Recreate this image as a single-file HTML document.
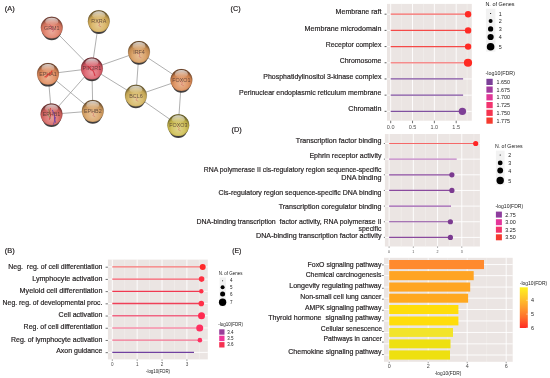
<!DOCTYPE html>
<html><head><meta charset="utf-8"><style>
html,body{margin:0;padding:0;background:#fff;}
body{width:550px;height:378px;overflow:hidden;}
svg{display:block;font-family:"Liberation Sans", sans-serif;will-change:transform;}
</style></head><body>
<svg width="550" height="378" viewBox="0 0 550 378">
<text x="4.80" y="10.70" font-size="7.6" text-anchor="start" fill="#231F20" textLength="9.90" lengthAdjust="spacingAndGlyphs" stroke="#231F20" stroke-width="0.2" xml:space="preserve">(A)</text>
<text x="230.60" y="10.80" font-size="7.6" text-anchor="start" fill="#231F20" textLength="10.00" lengthAdjust="spacingAndGlyphs" stroke="#231F20" stroke-width="0.2" xml:space="preserve">(C)</text>
<text x="231.60" y="131.80" font-size="7.6" text-anchor="start" fill="#231F20" textLength="10.20" lengthAdjust="spacingAndGlyphs" stroke="#231F20" stroke-width="0.2" xml:space="preserve">(D)</text>
<text x="4.80" y="252.80" font-size="7.6" text-anchor="start" fill="#231F20" textLength="9.90" lengthAdjust="spacingAndGlyphs" stroke="#231F20" stroke-width="0.2" xml:space="preserve">(B)</text>
<text x="232.30" y="252.90" font-size="7.6" text-anchor="start" fill="#231F20" textLength="9.10" lengthAdjust="spacingAndGlyphs" stroke="#231F20" stroke-width="0.2" xml:space="preserve">(E)</text>
<line x1="51.75" y1="27.60" x2="91.90" y2="68.50" stroke="#9C9C9C" stroke-width="0.8"/>
<line x1="98.80" y1="21.20" x2="91.90" y2="68.50" stroke="#9C9C9C" stroke-width="0.8"/>
<line x1="91.90" y1="68.50" x2="139.00" y2="52.00" stroke="#9C9C9C" stroke-width="0.8"/>
<line x1="91.90" y1="68.50" x2="48.00" y2="73.90" stroke="#9C9C9C" stroke-width="0.8"/>
<line x1="91.90" y1="68.50" x2="51.50" y2="114.30" stroke="#9C9C9C" stroke-width="0.8"/>
<line x1="91.90" y1="68.50" x2="92.80" y2="111.00" stroke="#9C9C9C" stroke-width="0.8"/>
<line x1="91.90" y1="68.50" x2="135.90" y2="95.60" stroke="#9C9C9C" stroke-width="0.8"/>
<line x1="48.00" y1="73.90" x2="51.50" y2="114.30" stroke="#9C9C9C" stroke-width="0.8"/>
<line x1="48.00" y1="73.90" x2="92.80" y2="111.00" stroke="#9C9C9C" stroke-width="0.8"/>
<line x1="51.50" y1="114.30" x2="92.80" y2="111.00" stroke="#9C9C9C" stroke-width="0.8"/>
<line x1="139.00" y1="52.00" x2="135.90" y2="95.60" stroke="#9C9C9C" stroke-width="0.8"/>
<line x1="139.00" y1="52.00" x2="181.40" y2="80.00" stroke="#9C9C9C" stroke-width="0.8"/>
<line x1="135.90" y1="95.60" x2="181.40" y2="80.00" stroke="#9C9C9C" stroke-width="0.8"/>
<line x1="135.90" y1="95.60" x2="178.30" y2="125.20" stroke="#9C9C9C" stroke-width="0.8"/>
<line x1="181.40" y1="80.00" x2="178.30" y2="125.20" stroke="#9C9C9C" stroke-width="0.8"/>
<defs><radialGradient id="shade" cx="0.5" cy="0.68" r="0.62"><stop offset="0" stop-color="#fff" stop-opacity="0.38"/><stop offset="0.5" stop-color="#fff" stop-opacity="0.12"/><stop offset="0.78" stop-color="#000" stop-opacity="0.08"/><stop offset="1" stop-color="#000" stop-opacity="0.5"/></radialGradient><linearGradient id="hl" x1="0" y1="0" x2="0" y2="1"><stop offset="0" stop-color="#fff" stop-opacity="0.75"/><stop offset="1" stop-color="#fff" stop-opacity="0.0"/></linearGradient></defs>
<ellipse cx="51.75" cy="29.40" rx="10.00" ry="10.90" fill="#2E2A2A" opacity="0.9"/>
<circle cx="51.75" cy="27.60" r="10.90" fill="#E07A62"/>
<circle cx="51.75" cy="27.60" r="10.90" fill="url(#shade)" stroke="#000" stroke-opacity="0.18" stroke-width="0.6"/>
<ellipse cx="51.75" cy="21.60" rx="6.54" ry="3.92" fill="url(#hl)"/>
<text x="51.75" y="29.50" font-size="5.4" text-anchor="middle" fill="#3A2626" opacity="0.72" xml:space="preserve">GRM1</text>
<path d="M51.75,27.60 m-2,-3 l2,2 l-1,2 l3,1 l-1,2" stroke="#C02050" stroke-width="0.8" fill="none" opacity="0.55" stroke-linecap="round"/>
<ellipse cx="98.80" cy="23.00" rx="10.00" ry="10.90" fill="#2E2A2A" opacity="0.9"/>
<circle cx="98.80" cy="21.20" r="10.90" fill="#D6AE58"/>
<circle cx="98.80" cy="21.20" r="10.90" fill="url(#shade)" stroke="#000" stroke-opacity="0.18" stroke-width="0.6"/>
<ellipse cx="98.80" cy="15.20" rx="6.54" ry="3.92" fill="url(#hl)"/>
<text x="98.80" y="23.10" font-size="5.4" text-anchor="middle" fill="#3A2626" opacity="0.72" xml:space="preserve">RXRA</text>
<path d="M98.80,21.20 m-1,1 l2,2 l-1,1.5 l2,1" stroke="#C83040" stroke-width="0.6" fill="none" opacity="0.55" stroke-linecap="round"/>
<ellipse cx="91.90" cy="70.30" rx="10.00" ry="10.90" fill="#2E2A2A" opacity="0.9"/>
<circle cx="91.90" cy="68.50" r="10.90" fill="#DC5A66"/>
<circle cx="91.90" cy="68.50" r="10.90" fill="url(#shade)" stroke="#000" stroke-opacity="0.18" stroke-width="0.6"/>
<ellipse cx="91.90" cy="62.50" rx="6.54" ry="3.92" fill="url(#hl)"/>
<text x="91.90" y="70.40" font-size="5.4" text-anchor="middle" fill="#3A2626" opacity="0.72" xml:space="preserve">PIK3R1</text>
<path d="M91.90,68.50 m-4,-2 l2,1 l1,2 l2,1 l1,2 l1,3" stroke="#D02030" stroke-width="1.1" fill="none" opacity="0.75" stroke-linecap="round"/>
<path d="M91.90,68.50 m-1,-3 l3,2 l1,3" stroke="#E04050" stroke-width="0.6" fill="none" opacity="0.6" stroke-linecap="round"/>
<ellipse cx="139.00" cy="53.80" rx="10.00" ry="10.90" fill="#2E2A2A" opacity="0.9"/>
<circle cx="139.00" cy="52.00" r="10.90" fill="#D69858"/>
<circle cx="139.00" cy="52.00" r="10.90" fill="url(#shade)" stroke="#000" stroke-opacity="0.18" stroke-width="0.6"/>
<ellipse cx="139.00" cy="46.00" rx="6.54" ry="3.92" fill="url(#hl)"/>
<text x="139.00" y="53.90" font-size="5.4" text-anchor="middle" fill="#3A2626" opacity="0.72" xml:space="preserve">IRF4</text>
<path d="M139.00,52.00 m-1,1 l2,2 l-1,1.5 l2,1" stroke="#C83040" stroke-width="0.6" fill="none" opacity="0.55" stroke-linecap="round"/>
<ellipse cx="48.00" cy="75.70" rx="10.00" ry="10.90" fill="#2E2A2A" opacity="0.9"/>
<circle cx="48.00" cy="73.90" r="10.90" fill="#DF8858"/>
<circle cx="48.00" cy="73.90" r="10.90" fill="url(#shade)" stroke="#000" stroke-opacity="0.18" stroke-width="0.6"/>
<ellipse cx="48.00" cy="67.90" rx="6.54" ry="3.92" fill="url(#hl)"/>
<text x="48.00" y="75.80" font-size="5.4" text-anchor="middle" fill="#3A2626" opacity="0.72" xml:space="preserve">EPHA1</text>
<path d="M48.00,73.90 m-3,3 l2,-1 l1,-2 l2,0 l2,-3" stroke="#D82020" stroke-width="1.2" fill="none" opacity="0.7" stroke-linecap="round"/>
<path d="M48.00,73.90 m-2,4 l3,-3 l3,-1" stroke="#E03020" stroke-width="0.7" fill="none" opacity="0.6" stroke-linecap="round"/>
<ellipse cx="51.50" cy="116.10" rx="10.00" ry="10.90" fill="#2E2A2A" opacity="0.9"/>
<circle cx="51.50" cy="114.30" r="10.90" fill="#D6625E"/>
<circle cx="51.50" cy="114.30" r="10.90" fill="url(#shade)" stroke="#000" stroke-opacity="0.18" stroke-width="0.6"/>
<ellipse cx="51.50" cy="108.30" rx="6.54" ry="3.92" fill="url(#hl)"/>
<text x="51.50" y="116.20" font-size="5.4" text-anchor="middle" fill="#3A2626" opacity="0.72" xml:space="preserve">EPHB1</text>
<path d="M51.50,114.30 m-1,-6 l-1,4 l1,3 l-1,4" stroke="#D02828" stroke-width="0.9" fill="none" opacity="0.8" stroke-linecap="round"/>
<path d="M51.50,114.30 m-3,-5 l1,3 l-1,3 l2,3" stroke="#40A040" stroke-width="0.7" fill="none" opacity="0.7" stroke-linecap="round"/>
<path d="M51.50,114.30 m1,-4 l2,5 l0,4 l1,3" stroke="#6030A0" stroke-width="0.9" fill="none" opacity="0.85" stroke-linecap="round"/>
<path d="M51.50,114.30 m4,3 l-1,4 l-1,3" stroke="#5030B0" stroke-width="0.8" fill="none" opacity="0.8" stroke-linecap="round"/>
<ellipse cx="92.80" cy="112.80" rx="10.00" ry="10.90" fill="#2E2A2A" opacity="0.9"/>
<circle cx="92.80" cy="111.00" r="10.90" fill="#D8A060"/>
<circle cx="92.80" cy="111.00" r="10.90" fill="url(#shade)" stroke="#000" stroke-opacity="0.18" stroke-width="0.6"/>
<ellipse cx="92.80" cy="105.00" rx="6.54" ry="3.92" fill="url(#hl)"/>
<text x="92.80" y="112.90" font-size="5.4" text-anchor="middle" fill="#3A2626" opacity="0.72" xml:space="preserve">EPHB2</text>
<path d="M92.80,111.00 m-1,1 l2,2 l-1,1.5 l2,1" stroke="#C83040" stroke-width="0.6" fill="none" opacity="0.55" stroke-linecap="round"/>
<ellipse cx="135.90" cy="97.40" rx="10.00" ry="10.90" fill="#2E2A2A" opacity="0.9"/>
<circle cx="135.90" cy="95.60" r="10.90" fill="#D4B45C"/>
<circle cx="135.90" cy="95.60" r="10.90" fill="url(#shade)" stroke="#000" stroke-opacity="0.18" stroke-width="0.6"/>
<ellipse cx="135.90" cy="89.60" rx="6.54" ry="3.92" fill="url(#hl)"/>
<text x="135.90" y="97.50" font-size="5.4" text-anchor="middle" fill="#3A2626" opacity="0.72" xml:space="preserve">BCL6</text>
<path d="M135.90,95.60 m-1,1 l2,2 l-1,1.5 l2,1" stroke="#C83040" stroke-width="0.6" fill="none" opacity="0.55" stroke-linecap="round"/>
<ellipse cx="181.40" cy="81.80" rx="10.00" ry="10.90" fill="#2E2A2A" opacity="0.9"/>
<circle cx="181.40" cy="80.00" r="10.90" fill="#DC8A54"/>
<circle cx="181.40" cy="80.00" r="10.90" fill="url(#shade)" stroke="#000" stroke-opacity="0.18" stroke-width="0.6"/>
<ellipse cx="181.40" cy="74.00" rx="6.54" ry="3.92" fill="url(#hl)"/>
<text x="181.40" y="81.90" font-size="5.4" text-anchor="middle" fill="#3A2626" opacity="0.72" xml:space="preserve">FOXO1</text>
<path d="M181.40,80.00 m-1,1 l2,2 l-1,1.5 l2,1" stroke="#C83040" stroke-width="0.6" fill="none" opacity="0.55" stroke-linecap="round"/>
<ellipse cx="178.30" cy="127.00" rx="10.00" ry="10.90" fill="#2E2A2A" opacity="0.9"/>
<circle cx="178.30" cy="125.20" r="10.90" fill="#CDBC4C"/>
<circle cx="178.30" cy="125.20" r="10.90" fill="url(#shade)" stroke="#000" stroke-opacity="0.18" stroke-width="0.6"/>
<ellipse cx="178.30" cy="119.20" rx="6.54" ry="3.92" fill="url(#hl)"/>
<text x="178.30" y="127.10" font-size="5.4" text-anchor="middle" fill="#3A2626" opacity="0.72" xml:space="preserve">FOXO3</text>
<path d="M178.30,125.20 m-1,1 l2,2 l-1,1.5 l2,1" stroke="#C83040" stroke-width="0.6" fill="none" opacity="0.55" stroke-linecap="round"/>
<rect x="387.00" y="3.90" width="84.80" height="116.80" fill="#EBE5E3"/>
<line x1="401.62" y1="3.90" x2="401.62" y2="120.70" stroke="#F4F2F1" stroke-width="0.5"/>
<line x1="423.45" y1="3.90" x2="423.45" y2="120.70" stroke="#F4F2F1" stroke-width="0.5"/>
<line x1="445.29" y1="3.90" x2="445.29" y2="120.70" stroke="#F4F2F1" stroke-width="0.5"/>
<line x1="467.12" y1="3.90" x2="467.12" y2="120.70" stroke="#F4F2F1" stroke-width="0.5"/>
<line x1="390.70" y1="3.90" x2="390.70" y2="120.70" stroke="#FFFFFF" stroke-width="0.9"/>
<line x1="412.53" y1="3.90" x2="412.53" y2="120.70" stroke="#FFFFFF" stroke-width="0.9"/>
<line x1="434.37" y1="3.90" x2="434.37" y2="120.70" stroke="#FFFFFF" stroke-width="0.9"/>
<line x1="456.20" y1="3.90" x2="456.20" y2="120.70" stroke="#FFFFFF" stroke-width="0.9"/>
<line x1="387.00" y1="14.20" x2="471.80" y2="14.20" stroke="#FFFFFF" stroke-width="0.9"/>
<line x1="387.00" y1="30.39" x2="471.80" y2="30.39" stroke="#FFFFFF" stroke-width="0.9"/>
<line x1="387.00" y1="46.58" x2="471.80" y2="46.58" stroke="#FFFFFF" stroke-width="0.9"/>
<line x1="387.00" y1="62.77" x2="471.80" y2="62.77" stroke="#FFFFFF" stroke-width="0.9"/>
<line x1="387.00" y1="78.96" x2="471.80" y2="78.96" stroke="#FFFFFF" stroke-width="0.9"/>
<line x1="387.00" y1="95.15" x2="471.80" y2="95.15" stroke="#FFFFFF" stroke-width="0.9"/>
<line x1="387.00" y1="111.34" x2="471.80" y2="111.34" stroke="#FFFFFF" stroke-width="0.9"/>
<line x1="390.70" y1="14.20" x2="468.10" y2="14.20" stroke="#F56664" stroke-width="1.3"/>
<circle cx="468.10" cy="14.20" r="3.20" fill="#FF2A24"/>
<line x1="384.60" y1="14.20" x2="386.50" y2="14.20" stroke="#333" stroke-width="0.8"/>
<line x1="390.70" y1="30.39" x2="468.10" y2="30.39" stroke="#F54A48" stroke-width="1.3"/>
<circle cx="468.10" cy="30.39" r="3.20" fill="#FF2A24"/>
<line x1="384.60" y1="30.39" x2="386.50" y2="30.39" stroke="#333" stroke-width="0.8"/>
<line x1="390.70" y1="46.58" x2="468.10" y2="46.58" stroke="#F54A48" stroke-width="1.3"/>
<circle cx="468.10" cy="46.58" r="3.20" fill="#FF2A24"/>
<line x1="384.60" y1="46.58" x2="386.50" y2="46.58" stroke="#333" stroke-width="0.8"/>
<line x1="390.70" y1="62.77" x2="468.00" y2="62.77" stroke="#F58C8C" stroke-width="1.3"/>
<circle cx="468.00" cy="62.77" r="4.10" fill="#FF2A22"/>
<line x1="384.60" y1="62.77" x2="386.50" y2="62.77" stroke="#333" stroke-width="0.8"/>
<line x1="390.70" y1="78.96" x2="463.10" y2="78.96" stroke="#8050A0" stroke-width="1.3"/>
<line x1="384.60" y1="78.96" x2="386.50" y2="78.96" stroke="#333" stroke-width="0.8"/>
<line x1="390.70" y1="95.15" x2="463.10" y2="95.15" stroke="#8050A0" stroke-width="1.3"/>
<line x1="384.60" y1="95.15" x2="386.50" y2="95.15" stroke="#333" stroke-width="0.8"/>
<line x1="390.70" y1="111.34" x2="462.40" y2="111.34" stroke="#8050A0" stroke-width="1.3"/>
<circle cx="462.40" cy="111.34" r="3.70" fill="#7E3F96"/>
<line x1="384.60" y1="111.34" x2="386.50" y2="111.34" stroke="#333" stroke-width="0.8"/>
<text x="335.60" y="14.40" font-size="7.6" text-anchor="start" fill="#231F20" textLength="45.80" lengthAdjust="spacingAndGlyphs" stroke="#231F20" stroke-width="0.2" xml:space="preserve">Membrane raft</text>
<text x="304.60" y="30.50" font-size="7.6" text-anchor="start" fill="#231F20" textLength="76.80" lengthAdjust="spacingAndGlyphs" stroke="#231F20" stroke-width="0.2" xml:space="preserve">Membrane microdomain</text>
<text x="325.80" y="46.50" font-size="7.6" text-anchor="start" fill="#231F20" textLength="55.60" lengthAdjust="spacingAndGlyphs" stroke="#231F20" stroke-width="0.2" xml:space="preserve">Receptor complex</text>
<text x="339.70" y="62.50" font-size="7.6" text-anchor="start" fill="#231F20" textLength="41.70" lengthAdjust="spacingAndGlyphs" stroke="#231F20" stroke-width="0.2" xml:space="preserve">Chromosome</text>
<text x="263.30" y="78.60" font-size="7.6" text-anchor="start" fill="#231F20" textLength="118.10" lengthAdjust="spacingAndGlyphs" stroke="#231F20" stroke-width="0.2" xml:space="preserve">Phosphatidylinositol 3-kinase complex</text>
<text x="239.00" y="94.90" font-size="7.6" text-anchor="start" fill="#231F20" textLength="142.40" lengthAdjust="spacingAndGlyphs" stroke="#231F20" stroke-width="0.2" xml:space="preserve">Perinuclear endoplasmic reticulum membrane</text>
<text x="348.30" y="111.10" font-size="7.6" text-anchor="start" fill="#231F20" textLength="33.10" lengthAdjust="spacingAndGlyphs" stroke="#231F20" stroke-width="0.2" xml:space="preserve">Chromatin</text>
<line x1="390.70" y1="120.70" x2="390.70" y2="123.20" stroke="#333" stroke-width="0.7"/>
<text x="390.70" y="129.20" font-size="5.5" text-anchor="middle" fill="#4D4D4D" xml:space="preserve">0.0</text>
<line x1="412.53" y1="120.70" x2="412.53" y2="123.20" stroke="#333" stroke-width="0.7"/>
<text x="412.53" y="129.20" font-size="5.5" text-anchor="middle" fill="#4D4D4D" xml:space="preserve">0.5</text>
<line x1="434.37" y1="120.70" x2="434.37" y2="123.20" stroke="#333" stroke-width="0.7"/>
<text x="434.37" y="129.20" font-size="5.5" text-anchor="middle" fill="#4D4D4D" xml:space="preserve">1.0</text>
<line x1="456.20" y1="120.70" x2="456.20" y2="123.20" stroke="#333" stroke-width="0.7"/>
<text x="456.20" y="129.20" font-size="5.5" text-anchor="middle" fill="#4D4D4D" xml:space="preserve">1.5</text>
<text x="485.40" y="6.00" font-size="5.4" text-anchor="start" fill="#1A1A1A" textLength="29.20" lengthAdjust="spacingAndGlyphs" xml:space="preserve">N. of Genes</text>
<rect x="485.90" y="8.70" width="9.50" height="42.90" fill="#F2F2F2"/>
<circle cx="490.60" cy="13.50" r="0.60" fill="#000"/>
<text x="498.70" y="15.50" font-size="5.4" text-anchor="start" fill="#1A1A1A" xml:space="preserve">1</text>
<circle cx="490.60" cy="21.00" r="2.00" fill="#000"/>
<text x="498.70" y="23.00" font-size="5.4" text-anchor="start" fill="#1A1A1A" xml:space="preserve">2</text>
<circle cx="490.60" cy="28.90" r="2.60" fill="#000"/>
<text x="498.70" y="30.90" font-size="5.4" text-anchor="start" fill="#1A1A1A" xml:space="preserve">3</text>
<circle cx="490.60" cy="37.00" r="3.10" fill="#000"/>
<text x="498.70" y="39.00" font-size="5.4" text-anchor="start" fill="#1A1A1A" xml:space="preserve">4</text>
<circle cx="490.60" cy="46.80" r="3.80" fill="#000"/>
<text x="498.70" y="48.80" font-size="5.4" text-anchor="start" fill="#1A1A1A" xml:space="preserve">5</text>
<text x="485.60" y="74.90" font-size="5.4" text-anchor="start" fill="#1A1A1A" textLength="29.40" lengthAdjust="spacingAndGlyphs" xml:space="preserve">-log10(FDR)</text>
<rect x="486.40" y="78.80" width="6.30" height="6.20" fill="#7B3F98"/>
<text x="496.50" y="83.90" font-size="5.4" text-anchor="start" fill="#1A1A1A" xml:space="preserve">1.650</text>
<rect x="486.40" y="86.50" width="6.30" height="6.20" fill="#A23B9E"/>
<text x="496.50" y="91.60" font-size="5.4" text-anchor="start" fill="#1A1A1A" xml:space="preserve">1.675</text>
<rect x="486.40" y="94.20" width="6.30" height="6.20" fill="#DF3797"/>
<text x="496.50" y="99.30" font-size="5.4" text-anchor="start" fill="#1A1A1A" xml:space="preserve">1.700</text>
<rect x="486.40" y="102.00" width="6.30" height="6.20" fill="#F2336E"/>
<text x="496.50" y="107.10" font-size="5.4" text-anchor="start" fill="#1A1A1A" xml:space="preserve">1.725</text>
<rect x="486.40" y="109.70" width="6.30" height="6.20" fill="#F5344F"/>
<text x="496.50" y="114.80" font-size="5.4" text-anchor="start" fill="#1A1A1A" xml:space="preserve">1.750</text>
<rect x="486.40" y="117.50" width="6.30" height="6.20" fill="#F53A2E"/>
<text x="496.50" y="122.60" font-size="5.4" text-anchor="start" fill="#1A1A1A" xml:space="preserve">1.775</text>
<rect x="384.90" y="134.00" width="95.00" height="112.50" fill="#EBE5E3"/>
<line x1="401.22" y1="134.00" x2="401.22" y2="246.50" stroke="#F4F2F1" stroke-width="0.5"/>
<line x1="425.45" y1="134.00" x2="425.45" y2="246.50" stroke="#F4F2F1" stroke-width="0.5"/>
<line x1="449.68" y1="134.00" x2="449.68" y2="246.50" stroke="#F4F2F1" stroke-width="0.5"/>
<line x1="473.91" y1="134.00" x2="473.91" y2="246.50" stroke="#F4F2F1" stroke-width="0.5"/>
<line x1="389.10" y1="134.00" x2="389.10" y2="246.50" stroke="#FFFFFF" stroke-width="0.9"/>
<line x1="413.33" y1="134.00" x2="413.33" y2="246.50" stroke="#FFFFFF" stroke-width="0.9"/>
<line x1="437.56" y1="134.00" x2="437.56" y2="246.50" stroke="#FFFFFF" stroke-width="0.9"/>
<line x1="461.79" y1="134.00" x2="461.79" y2="246.50" stroke="#FFFFFF" stroke-width="0.9"/>
<line x1="384.90" y1="143.50" x2="479.90" y2="143.50" stroke="#FFFFFF" stroke-width="0.9"/>
<line x1="384.90" y1="159.15" x2="479.90" y2="159.15" stroke="#FFFFFF" stroke-width="0.9"/>
<line x1="384.90" y1="174.80" x2="479.90" y2="174.80" stroke="#FFFFFF" stroke-width="0.9"/>
<line x1="384.90" y1="190.45" x2="479.90" y2="190.45" stroke="#FFFFFF" stroke-width="0.9"/>
<line x1="384.90" y1="206.10" x2="479.90" y2="206.10" stroke="#FFFFFF" stroke-width="0.9"/>
<line x1="384.90" y1="221.75" x2="479.90" y2="221.75" stroke="#FFFFFF" stroke-width="0.9"/>
<line x1="384.90" y1="237.40" x2="479.90" y2="237.40" stroke="#FFFFFF" stroke-width="0.9"/>
<line x1="389.10" y1="143.50" x2="475.70" y2="143.50" stroke="#F56868" stroke-width="1.2"/>
<circle cx="475.70" cy="143.50" r="2.60" fill="#FF2525"/>
<line x1="383.90" y1="143.50" x2="384.90" y2="143.50" stroke="#333" stroke-width="0.7"/>
<line x1="389.10" y1="159.15" x2="456.70" y2="159.15" stroke="#C080C4" stroke-width="1.2"/>
<line x1="383.90" y1="159.15" x2="384.90" y2="159.15" stroke="#333" stroke-width="0.7"/>
<line x1="389.10" y1="174.80" x2="451.90" y2="174.80" stroke="#8A4A9E" stroke-width="1.2"/>
<circle cx="451.90" cy="174.80" r="2.60" fill="#7B3A90"/>
<line x1="383.90" y1="174.80" x2="384.90" y2="174.80" stroke="#333" stroke-width="0.7"/>
<line x1="389.10" y1="190.45" x2="451.90" y2="190.45" stroke="#8A4A9E" stroke-width="1.2"/>
<circle cx="451.90" cy="190.45" r="2.60" fill="#7B3A90"/>
<line x1="383.90" y1="190.45" x2="384.90" y2="190.45" stroke="#333" stroke-width="0.7"/>
<line x1="389.10" y1="206.10" x2="451.00" y2="206.10" stroke="#9A5AAE" stroke-width="1.2"/>
<line x1="383.90" y1="206.10" x2="384.90" y2="206.10" stroke="#333" stroke-width="0.7"/>
<line x1="389.10" y1="221.75" x2="450.40" y2="221.75" stroke="#8A4A9E" stroke-width="1.2"/>
<circle cx="450.40" cy="221.75" r="2.60" fill="#7B3A90"/>
<line x1="383.90" y1="221.75" x2="384.90" y2="221.75" stroke="#333" stroke-width="0.7"/>
<line x1="389.10" y1="237.40" x2="450.40" y2="237.40" stroke="#8A4A9E" stroke-width="1.2"/>
<circle cx="450.40" cy="237.40" r="2.60" fill="#7B3A90"/>
<line x1="383.90" y1="237.40" x2="384.90" y2="237.40" stroke="#333" stroke-width="0.7"/>
<text x="295.80" y="142.90" font-size="7.6" text-anchor="start" fill="#231F20" textLength="85.70" lengthAdjust="spacingAndGlyphs" stroke="#231F20" stroke-width="0.2" xml:space="preserve">Transcription factor binding</text>
<text x="309.40" y="157.90" font-size="7.6" text-anchor="start" fill="#231F20" textLength="72.10" lengthAdjust="spacingAndGlyphs" stroke="#231F20" stroke-width="0.2" xml:space="preserve">Ephrin receptor activity</text>
<text x="203.80" y="172.40" font-size="7.6" text-anchor="start" fill="#231F20" textLength="177.70" lengthAdjust="spacingAndGlyphs" stroke="#231F20" stroke-width="0.2" xml:space="preserve">RNA polymerase II cis-regulatory region sequence-specific</text>
<text x="341.30" y="180.00" font-size="7.6" text-anchor="start" fill="#231F20" textLength="40.20" lengthAdjust="spacingAndGlyphs" stroke="#231F20" stroke-width="0.2" xml:space="preserve">DNA binding</text>
<text x="218.50" y="194.70" font-size="7.6" text-anchor="start" fill="#231F20" textLength="163.00" lengthAdjust="spacingAndGlyphs" stroke="#231F20" stroke-width="0.2" xml:space="preserve">Cis-regulatory region sequence-specific DNA binding</text>
<text x="278.70" y="209.30" font-size="7.6" text-anchor="start" fill="#231F20" textLength="102.80" lengthAdjust="spacingAndGlyphs" stroke="#231F20" stroke-width="0.2" xml:space="preserve">Transcription coregulator binding</text>
<text x="196.50" y="224.20" font-size="7.6" text-anchor="start" fill="#231F20" textLength="185.00" lengthAdjust="spacingAndGlyphs" stroke="#231F20" stroke-width="0.2" xml:space="preserve">DNA-binding transcription  factor activity, RNA polymerase II</text>
<text x="358.60" y="231.10" font-size="7.6" text-anchor="start" fill="#231F20" textLength="22.90" lengthAdjust="spacingAndGlyphs" stroke="#231F20" stroke-width="0.2" xml:space="preserve">specific</text>
<text x="256.00" y="238.40" font-size="7.6" text-anchor="start" fill="#231F20" textLength="125.50" lengthAdjust="spacingAndGlyphs" stroke="#231F20" stroke-width="0.2" xml:space="preserve">DNA-binding transcription factor activity</text>
<line x1="389.10" y1="246.50" x2="389.10" y2="247.80" stroke="#333" stroke-width="0.5"/>
<text x="389.10" y="252.80" font-size="3.6" text-anchor="middle" fill="#4D4D4D" xml:space="preserve">0</text>
<line x1="413.33" y1="246.50" x2="413.33" y2="247.80" stroke="#333" stroke-width="0.5"/>
<text x="413.33" y="252.80" font-size="3.6" text-anchor="middle" fill="#4D4D4D" xml:space="preserve">1</text>
<line x1="437.56" y1="246.50" x2="437.56" y2="247.80" stroke="#333" stroke-width="0.5"/>
<text x="437.56" y="252.80" font-size="3.6" text-anchor="middle" fill="#4D4D4D" xml:space="preserve">2</text>
<line x1="461.79" y1="246.50" x2="461.79" y2="247.80" stroke="#333" stroke-width="0.5"/>
<text x="461.79" y="252.80" font-size="3.6" text-anchor="middle" fill="#4D4D4D" xml:space="preserve">3</text>
<text x="495.00" y="147.90" font-size="5.4" text-anchor="start" fill="#1A1A1A" textLength="27.60" lengthAdjust="spacingAndGlyphs" xml:space="preserve">N. of Genes</text>
<rect x="495.90" y="150.60" width="8.70" height="34.20" fill="#F2F2F2"/>
<circle cx="500.20" cy="155.00" r="0.60" fill="#000"/>
<text x="508.30" y="157.00" font-size="5.4" text-anchor="start" fill="#1A1A1A" xml:space="preserve">2</text>
<circle cx="500.20" cy="162.90" r="2.40" fill="#000"/>
<text x="508.30" y="164.90" font-size="5.4" text-anchor="start" fill="#1A1A1A" xml:space="preserve">3</text>
<circle cx="500.20" cy="170.50" r="2.90" fill="#000"/>
<text x="508.30" y="172.50" font-size="5.4" text-anchor="start" fill="#1A1A1A" xml:space="preserve">4</text>
<circle cx="500.20" cy="180.50" r="3.70" fill="#000"/>
<text x="508.30" y="182.50" font-size="5.4" text-anchor="start" fill="#1A1A1A" xml:space="preserve">5</text>
<text x="495.40" y="207.90" font-size="5.4" text-anchor="start" fill="#1A1A1A" textLength="27.80" lengthAdjust="spacingAndGlyphs" xml:space="preserve">-log10(FDR)</text>
<rect x="495.90" y="211.60" width="6.00" height="6.00" fill="#8E3D9E"/>
<text x="505.20" y="216.60" font-size="5.4" text-anchor="start" fill="#1A1A1A" xml:space="preserve">2.75</text>
<rect x="495.90" y="219.20" width="6.00" height="6.00" fill="#E4359A"/>
<text x="505.20" y="224.20" font-size="5.4" text-anchor="start" fill="#1A1A1A" xml:space="preserve">3.00</text>
<rect x="495.90" y="226.70" width="6.00" height="6.00" fill="#F3336A"/>
<text x="505.20" y="231.70" font-size="5.4" text-anchor="start" fill="#1A1A1A" xml:space="preserve">3.25</text>
<rect x="495.90" y="234.30" width="6.00" height="6.00" fill="#F53A30"/>
<text x="505.20" y="239.30" font-size="5.4" text-anchor="start" fill="#1A1A1A" xml:space="preserve">3.50</text>
<rect x="107.90" y="259.60" width="99.90" height="99.80" fill="#EBE5E3"/>
<line x1="124.73" y1="259.60" x2="124.73" y2="359.40" stroke="#F4F2F1" stroke-width="0.5"/>
<line x1="149.60" y1="259.60" x2="149.60" y2="359.40" stroke="#F4F2F1" stroke-width="0.5"/>
<line x1="174.47" y1="259.60" x2="174.47" y2="359.40" stroke="#F4F2F1" stroke-width="0.5"/>
<line x1="199.34" y1="259.60" x2="199.34" y2="359.40" stroke="#F4F2F1" stroke-width="0.5"/>
<line x1="112.30" y1="259.60" x2="112.30" y2="359.40" stroke="#FFFFFF" stroke-width="0.9"/>
<line x1="137.17" y1="259.60" x2="137.17" y2="359.40" stroke="#FFFFFF" stroke-width="0.9"/>
<line x1="162.04" y1="259.60" x2="162.04" y2="359.40" stroke="#FFFFFF" stroke-width="0.9"/>
<line x1="186.91" y1="259.60" x2="186.91" y2="359.40" stroke="#FFFFFF" stroke-width="0.9"/>
<line x1="107.90" y1="266.90" x2="207.80" y2="266.90" stroke="#FFFFFF" stroke-width="0.9"/>
<line x1="107.90" y1="279.11" x2="207.80" y2="279.11" stroke="#FFFFFF" stroke-width="0.9"/>
<line x1="107.90" y1="291.32" x2="207.80" y2="291.32" stroke="#FFFFFF" stroke-width="0.9"/>
<line x1="107.90" y1="303.53" x2="207.80" y2="303.53" stroke="#FFFFFF" stroke-width="0.9"/>
<line x1="107.90" y1="315.74" x2="207.80" y2="315.74" stroke="#FFFFFF" stroke-width="0.9"/>
<line x1="107.90" y1="327.95" x2="207.80" y2="327.95" stroke="#FFFFFF" stroke-width="0.9"/>
<line x1="107.90" y1="340.16" x2="207.80" y2="340.16" stroke="#FFFFFF" stroke-width="0.9"/>
<line x1="107.90" y1="352.37" x2="207.80" y2="352.37" stroke="#FFFFFF" stroke-width="0.9"/>
<line x1="112.30" y1="266.90" x2="202.70" y2="266.90" stroke="#F57272" stroke-width="1.35"/>
<circle cx="202.70" cy="266.90" r="3.00" fill="#FF2828"/>
<line x1="105.60" y1="267.20" x2="107.90" y2="267.20" stroke="#333" stroke-width="0.7"/>
<line x1="112.30" y1="279.11" x2="201.60" y2="279.11" stroke="#F55A6A" stroke-width="1.35"/>
<circle cx="201.60" cy="279.11" r="2.80" fill="#FF3040"/>
<line x1="105.60" y1="279.41" x2="107.90" y2="279.41" stroke="#333" stroke-width="0.7"/>
<line x1="112.30" y1="291.32" x2="201.30" y2="291.32" stroke="#F03850" stroke-width="1.35"/>
<circle cx="201.30" cy="291.32" r="2.20" fill="#FF3048"/>
<line x1="105.60" y1="291.62" x2="107.90" y2="291.62" stroke="#333" stroke-width="0.7"/>
<line x1="112.30" y1="303.53" x2="201.30" y2="303.53" stroke="#F04058" stroke-width="1.35"/>
<circle cx="201.30" cy="303.53" r="2.80" fill="#FF3048"/>
<line x1="105.60" y1="303.83" x2="107.90" y2="303.83" stroke="#333" stroke-width="0.7"/>
<line x1="112.30" y1="315.74" x2="201.50" y2="315.74" stroke="#F06482" stroke-width="1.35"/>
<circle cx="201.50" cy="315.74" r="3.50" fill="#FF2A50"/>
<line x1="105.60" y1="316.04" x2="107.90" y2="316.04" stroke="#333" stroke-width="0.7"/>
<line x1="112.30" y1="327.95" x2="199.70" y2="327.95" stroke="#F58CA6" stroke-width="1.35"/>
<circle cx="199.70" cy="327.95" r="3.50" fill="#FF3060"/>
<line x1="105.60" y1="328.25" x2="107.90" y2="328.25" stroke="#333" stroke-width="0.7"/>
<line x1="112.30" y1="340.16" x2="199.90" y2="340.16" stroke="#F0708E" stroke-width="1.35"/>
<circle cx="199.90" cy="340.16" r="2.30" fill="#FF3060"/>
<line x1="105.60" y1="340.46" x2="107.90" y2="340.46" stroke="#333" stroke-width="0.7"/>
<line x1="112.30" y1="352.37" x2="194.00" y2="352.37" stroke="#7040A0" stroke-width="1.35"/>
<line x1="105.60" y1="352.67" x2="107.90" y2="352.67" stroke="#333" stroke-width="0.7"/>
<text x="8.30" y="269.00" font-size="7.2" text-anchor="start" fill="#231F20" textLength="94.10" lengthAdjust="spacingAndGlyphs" stroke="#231F20" stroke-width="0.2" xml:space="preserve">Neg.  reg. of cell differentiation</text>
<text x="32.20" y="280.70" font-size="7.2" text-anchor="start" fill="#231F20" textLength="70.20" lengthAdjust="spacingAndGlyphs" stroke="#231F20" stroke-width="0.2" xml:space="preserve">Lymphocyte activation</text>
<text x="19.60" y="292.70" font-size="7.2" text-anchor="start" fill="#231F20" textLength="82.80" lengthAdjust="spacingAndGlyphs" stroke="#231F20" stroke-width="0.2" xml:space="preserve">Myeloid cell differentiation</text>
<text x="2.60" y="304.80" font-size="7.2" text-anchor="start" fill="#231F20" textLength="99.80" lengthAdjust="spacingAndGlyphs" stroke="#231F20" stroke-width="0.2" xml:space="preserve">Neg. reg. of developmental proc.</text>
<text x="58.60" y="317.30" font-size="7.2" text-anchor="start" fill="#231F20" textLength="43.80" lengthAdjust="spacingAndGlyphs" stroke="#231F20" stroke-width="0.2" xml:space="preserve">Cell activation</text>
<text x="23.60" y="329.40" font-size="7.2" text-anchor="start" fill="#231F20" textLength="78.80" lengthAdjust="spacingAndGlyphs" stroke="#231F20" stroke-width="0.2" xml:space="preserve">Reg. of cell differentiation</text>
<text x="11.00" y="341.50" font-size="7.2" text-anchor="start" fill="#231F20" textLength="91.40" lengthAdjust="spacingAndGlyphs" stroke="#231F20" stroke-width="0.2" xml:space="preserve">Reg. of lymphocyte activation</text>
<text x="56.20" y="353.20" font-size="7.2" text-anchor="start" fill="#231F20" textLength="46.20" lengthAdjust="spacingAndGlyphs" stroke="#231F20" stroke-width="0.2" xml:space="preserve">Axon guidance</text>
<line x1="112.30" y1="359.40" x2="112.30" y2="360.90" stroke="#333" stroke-width="0.5"/>
<text x="112.30" y="366.00" font-size="4.6" text-anchor="middle" fill="#4D4D4D" xml:space="preserve">0</text>
<line x1="137.17" y1="359.40" x2="137.17" y2="360.90" stroke="#333" stroke-width="0.5"/>
<text x="137.17" y="366.00" font-size="4.6" text-anchor="middle" fill="#4D4D4D" xml:space="preserve">1</text>
<line x1="162.04" y1="359.40" x2="162.04" y2="360.90" stroke="#333" stroke-width="0.5"/>
<text x="162.04" y="366.00" font-size="4.6" text-anchor="middle" fill="#4D4D4D" xml:space="preserve">2</text>
<line x1="186.91" y1="359.40" x2="186.91" y2="360.90" stroke="#333" stroke-width="0.5"/>
<text x="186.91" y="366.00" font-size="4.6" text-anchor="middle" fill="#4D4D4D" xml:space="preserve">3</text>
<text x="158.00" y="373.20" font-size="5.0" text-anchor="middle" fill="#1A1A1A" textLength="24.00" lengthAdjust="spacingAndGlyphs" xml:space="preserve">-log10(FDR)</text>
<text x="218.70" y="274.50" font-size="4.5" text-anchor="start" fill="#1A1A1A" textLength="23.70" lengthAdjust="spacingAndGlyphs" xml:space="preserve">N. of Genes</text>
<rect x="219.60" y="277.50" width="6.40" height="29.00" fill="#F2F2F2"/>
<circle cx="222.60" cy="280.70" r="0.50" fill="#000"/>
<text x="230.00" y="282.30" font-size="4.5" text-anchor="start" fill="#1A1A1A" xml:space="preserve">4</text>
<circle cx="222.60" cy="287.30" r="2.00" fill="#000"/>
<text x="230.00" y="288.90" font-size="4.5" text-anchor="start" fill="#1A1A1A" xml:space="preserve">5</text>
<circle cx="222.60" cy="294.10" r="2.50" fill="#000"/>
<text x="230.00" y="295.70" font-size="4.5" text-anchor="start" fill="#1A1A1A" xml:space="preserve">6</text>
<circle cx="222.60" cy="302.30" r="3.70" fill="#000"/>
<text x="230.00" y="303.90" font-size="4.5" text-anchor="start" fill="#1A1A1A" xml:space="preserve">7</text>
<text x="218.30" y="326.00" font-size="4.5" text-anchor="start" fill="#1A1A1A" textLength="24.70" lengthAdjust="spacingAndGlyphs" xml:space="preserve">-log10(FDR)</text>
<rect x="219.20" y="329.30" width="5.30" height="5.40" fill="#9A3D9A"/>
<text x="227.30" y="333.60" font-size="4.5" text-anchor="start" fill="#1A1A1A" xml:space="preserve">3.4</text>
<rect x="219.20" y="335.70" width="5.30" height="5.40" fill="#F0359A"/>
<text x="227.30" y="340.00" font-size="4.5" text-anchor="start" fill="#1A1A1A" xml:space="preserve">3.5</text>
<rect x="219.20" y="342.10" width="5.30" height="5.40" fill="#F53050"/>
<text x="227.30" y="346.40" font-size="4.5" text-anchor="start" fill="#1A1A1A" xml:space="preserve">3.6</text>
<rect x="384.00" y="257.80" width="128.70" height="104.00" fill="#EBE5E3"/>
<line x1="408.70" y1="257.80" x2="408.70" y2="361.80" stroke="#F4F2F1" stroke-width="0.5"/>
<line x1="447.70" y1="257.80" x2="447.70" y2="361.80" stroke="#F4F2F1" stroke-width="0.5"/>
<line x1="486.70" y1="257.80" x2="486.70" y2="361.80" stroke="#F4F2F1" stroke-width="0.5"/>
<line x1="389.20" y1="257.80" x2="389.20" y2="361.80" stroke="#FFFFFF" stroke-width="0.9"/>
<line x1="428.20" y1="257.80" x2="428.20" y2="361.80" stroke="#FFFFFF" stroke-width="0.9"/>
<line x1="467.20" y1="257.80" x2="467.20" y2="361.80" stroke="#FFFFFF" stroke-width="0.9"/>
<line x1="506.20" y1="257.80" x2="506.20" y2="361.80" stroke="#FFFFFF" stroke-width="0.9"/>
<line x1="384.00" y1="264.55" x2="512.70" y2="264.55" stroke="#FFFFFF" stroke-width="0.9"/>
<line x1="384.00" y1="275.65" x2="512.70" y2="275.65" stroke="#FFFFFF" stroke-width="0.9"/>
<line x1="384.00" y1="287.05" x2="512.70" y2="287.05" stroke="#FFFFFF" stroke-width="0.9"/>
<line x1="384.00" y1="298.20" x2="512.70" y2="298.20" stroke="#FFFFFF" stroke-width="0.9"/>
<line x1="384.00" y1="309.50" x2="512.70" y2="309.50" stroke="#FFFFFF" stroke-width="0.9"/>
<line x1="384.00" y1="320.95" x2="512.70" y2="320.95" stroke="#FFFFFF" stroke-width="0.9"/>
<line x1="384.00" y1="332.45" x2="512.70" y2="332.45" stroke="#FFFFFF" stroke-width="0.9"/>
<line x1="384.00" y1="343.85" x2="512.70" y2="343.85" stroke="#FFFFFF" stroke-width="0.9"/>
<line x1="384.00" y1="355.00" x2="512.70" y2="355.00" stroke="#FFFFFF" stroke-width="0.9"/>
<rect x="389.20" y="260.00" width="94.80" height="9.10" fill="#FF8A2E"/>
<rect x="389.20" y="271.10" width="84.50" height="9.10" fill="#FFA423"/>
<rect x="389.20" y="282.50" width="81.00" height="9.10" fill="#FFA521"/>
<rect x="389.20" y="293.70" width="78.90" height="9.00" fill="#FFA820"/>
<rect x="389.20" y="305.00" width="69.20" height="9.00" fill="#FFDD0A"/>
<rect x="389.20" y="316.50" width="69.20" height="8.90" fill="#FFDD0A"/>
<rect x="389.20" y="328.00" width="63.80" height="8.90" fill="#F2E42A"/>
<rect x="389.20" y="339.40" width="61.30" height="8.90" fill="#EEE010"/>
<rect x="389.20" y="350.40" width="60.80" height="9.20" fill="#EEE010"/>
<text x="307.60" y="266.50" font-size="7.6" text-anchor="start" fill="#231F20" textLength="73.80" lengthAdjust="spacingAndGlyphs" stroke="#231F20" stroke-width="0.2" xml:space="preserve">FoxO signaling pathway</text>
<text x="305.70" y="277.00" font-size="7.6" text-anchor="start" fill="#231F20" textLength="75.70" lengthAdjust="spacingAndGlyphs" stroke="#231F20" stroke-width="0.2" xml:space="preserve">Chemical carcinogenesis</text>
<text x="289.20" y="287.60" font-size="7.6" text-anchor="start" fill="#231F20" textLength="92.20" lengthAdjust="spacingAndGlyphs" stroke="#231F20" stroke-width="0.2" xml:space="preserve">Longevity regulating pathway</text>
<text x="300.30" y="298.50" font-size="7.6" text-anchor="start" fill="#231F20" textLength="81.10" lengthAdjust="spacingAndGlyphs" stroke="#231F20" stroke-width="0.2" xml:space="preserve">Non-small cell lung cancer</text>
<text x="305.00" y="309.60" font-size="7.6" text-anchor="start" fill="#231F20" textLength="76.40" lengthAdjust="spacingAndGlyphs" stroke="#231F20" stroke-width="0.2" xml:space="preserve">AMPK signaling pathway</text>
<text x="268.30" y="320.10" font-size="7.6" text-anchor="start" fill="#231F20" textLength="113.10" lengthAdjust="spacingAndGlyphs" stroke="#231F20" stroke-width="0.2" xml:space="preserve">Thyroid hormone  signaling pathway</text>
<text x="320.80" y="330.80" font-size="7.6" text-anchor="start" fill="#231F20" textLength="61.20" lengthAdjust="spacingAndGlyphs" stroke="#231F20" stroke-width="0.2" xml:space="preserve">Cellular senescence</text>
<text x="323.40" y="341.40" font-size="7.6" text-anchor="start" fill="#231F20" textLength="58.60" lengthAdjust="spacingAndGlyphs" stroke="#231F20" stroke-width="0.2" xml:space="preserve">Pathways in cancer</text>
<text x="288.30" y="353.80" font-size="7.6" text-anchor="start" fill="#231F20" textLength="93.10" lengthAdjust="spacingAndGlyphs" stroke="#231F20" stroke-width="0.2" xml:space="preserve">Chemokine signaling pathway</text>
<line x1="382.00" y1="264.90" x2="383.80" y2="264.90" stroke="#333" stroke-width="0.6"/>
<line x1="382.00" y1="275.50" x2="383.80" y2="275.50" stroke="#333" stroke-width="0.6"/>
<line x1="382.00" y1="288.30" x2="383.80" y2="288.30" stroke="#333" stroke-width="0.6"/>
<line x1="382.00" y1="299.20" x2="383.80" y2="299.20" stroke="#333" stroke-width="0.6"/>
<line x1="382.00" y1="310.30" x2="383.80" y2="310.30" stroke="#333" stroke-width="0.6"/>
<line x1="382.00" y1="320.80" x2="383.80" y2="320.80" stroke="#333" stroke-width="0.6"/>
<line x1="382.00" y1="331.50" x2="383.80" y2="331.50" stroke="#333" stroke-width="0.6"/>
<line x1="382.00" y1="342.10" x2="383.80" y2="342.10" stroke="#333" stroke-width="0.6"/>
<line x1="382.00" y1="354.50" x2="383.80" y2="354.50" stroke="#333" stroke-width="0.6"/>
<line x1="389.20" y1="361.80" x2="389.20" y2="363.30" stroke="#333" stroke-width="0.5"/>
<text x="389.20" y="368.00" font-size="5.4" text-anchor="middle" fill="#4D4D4D" xml:space="preserve">0</text>
<line x1="428.20" y1="361.80" x2="428.20" y2="363.30" stroke="#333" stroke-width="0.5"/>
<text x="428.20" y="368.00" font-size="5.4" text-anchor="middle" fill="#4D4D4D" xml:space="preserve">2</text>
<line x1="467.20" y1="361.80" x2="467.20" y2="363.30" stroke="#333" stroke-width="0.5"/>
<text x="467.20" y="368.00" font-size="5.4" text-anchor="middle" fill="#4D4D4D" xml:space="preserve">4</text>
<line x1="506.20" y1="361.80" x2="506.20" y2="363.30" stroke="#333" stroke-width="0.5"/>
<text x="506.20" y="368.00" font-size="5.4" text-anchor="middle" fill="#4D4D4D" xml:space="preserve">6</text>
<text x="448.00" y="375.20" font-size="5.2" text-anchor="middle" fill="#1A1A1A" textLength="26.70" lengthAdjust="spacingAndGlyphs" xml:space="preserve">-log10(FDR)</text>
<text x="519.80" y="285.00" font-size="5.2" text-anchor="start" fill="#1A1A1A" textLength="27.40" lengthAdjust="spacingAndGlyphs" xml:space="preserve">-log10(FDR)</text>
<defs><linearGradient id="cbar" x1="0" y1="0" x2="0" y2="1"><stop offset="0" stop-color="#FFF21E"/><stop offset="0.25" stop-color="#FFC82A"/><stop offset="0.5" stop-color="#FF9C2E"/><stop offset="0.75" stop-color="#FF6C2A"/><stop offset="1" stop-color="#FF2A22"/></linearGradient></defs>
<rect x="519.80" y="287.30" width="8.00" height="40.70" fill="url(#cbar)"/>
<line x1="526.30" y1="300.30" x2="527.80" y2="300.30" stroke="#fff" stroke-width="0.5"/>
<text x="531.00" y="302.30" font-size="5.4" text-anchor="start" fill="#1A1A1A" xml:space="preserve">4</text>
<line x1="526.30" y1="314.10" x2="527.80" y2="314.10" stroke="#fff" stroke-width="0.5"/>
<text x="531.00" y="316.10" font-size="5.4" text-anchor="start" fill="#1A1A1A" xml:space="preserve">5</text>
<line x1="526.30" y1="327.90" x2="527.80" y2="327.90" stroke="#fff" stroke-width="0.5"/>
<text x="531.00" y="329.90" font-size="5.4" text-anchor="start" fill="#1A1A1A" xml:space="preserve">6</text>
</svg>
</body></html>
